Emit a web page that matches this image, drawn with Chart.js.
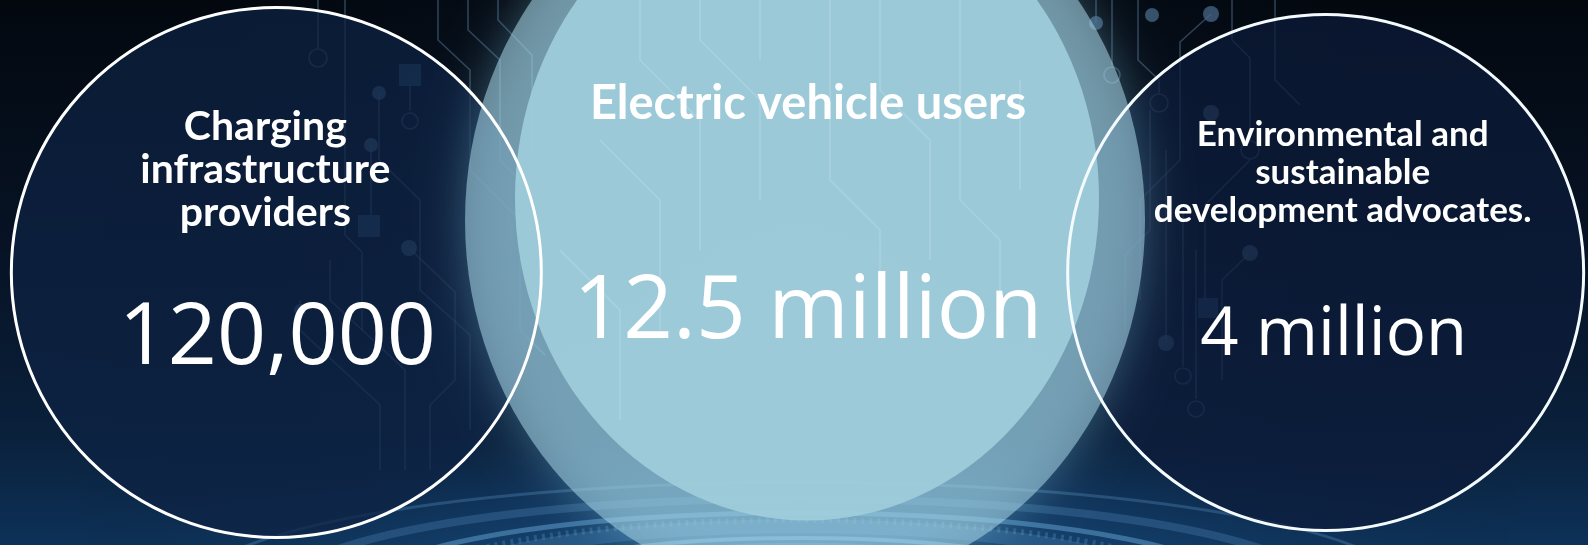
<!DOCTYPE html>
<html>
<head>
<meta charset="utf-8">
<title>Audience groups</title>
<script src="https://cdn.jsdelivr.net/npm/chart.js@4.4.1/dist/chart.umd.min.js"></script>
<style>
  html, body { margin: 0; padding: 0; background: #050b14; overflow: hidden; }
  #wrap { width: 1588px; height: 545px; }
</style>
</head>
<body>
<div id="wrap"><canvas id="groups" width="1588" height="545"></canvas></div>
<script>
// data
var categories = ['Charging infrastructure providers', 'Electric vehicle users', 'Environmental and sustainable development advocates.'];
var titleLines = [['Charging', 'infrastructure', 'providers'], ['Electric vehicle users'], ['Environmental and', 'sustainable', 'development advocates.']];
var values = [120000, 12500000, 4000000];
var valueLabels = ['120,000', '12.5 million', '4 million'];

// looks (sizes / offsets from each bubble centre)
var look = {
  radius: [265, 292, 258],
  fill: ['rgba(14,34,68,0.72)', 'rgba(0,0,0,0)', 'rgba(12,28,58,0.72)'],
  ring: ['#ffffff', 'rgba(0,0,0,0)', '#f4fbff'],
  titleSize: [41, 47, 35],
  titleDx: [-11, 7, 17],
  titleBase: [-133, -154, -127],
  titleGap: [43, 0, 38],
  valueSize: [86, 87, 67],
  valueDx: [1, 7, 8],
  valueBase: [91, 65, 82]
};

// background circuit traces (decoration only)
var traces = [
  [[318,0],[318,48]], [[345,0],[345,235],[362,252],[362,330]],
  [[379,93],[379,160],[420,200],[420,290],[470,335],[470,430]],
  [[438,0],[438,40],[470,70],[470,170],[530,230]],
  [[468,0],[468,30],[500,60],[500,160],[545,205]],
  [[498,0],[498,20],[532,55],[532,150]],
  [[410,85],[410,111]], [[371,145],[371,215]],
  [[409,248],[455,292],[455,380],[430,405],[430,470]],
  [[330,260],[330,300],[405,370],[405,470]],
  [[300,300],[300,330],[380,405],[380,470]],
  [[520,260],[520,330],[545,355]],
  [[1096,0],[1096,23]], [[1112,0],[1112,65]],
  [[1138,0],[1138,60],[1159,80],[1159,93]],
  [[1150,110],[1150,230],[1125,255],[1125,330]],
  [[1211,14],[1180,42],[1180,160],[1140,200],[1140,300]],
  [[1250,160],[1205,205],[1205,300]],
  [[1250,253],[1222,280],[1222,380]],
  [[1166,150],[1166,343]], [[1183,210],[1183,366]], [[1196,250],[1196,399]],
  [[1232,0],[1232,40],[1250,58],[1250,140]],
  [[1275,0],[1275,80],[1300,105]]
];
var innerTraces = [
  [[640,0],[640,60],[700,120],[700,250]], [[700,0],[700,40],[760,100],[760,200]],
  [[760,0],[760,60]], [[830,0],[830,180],[880,230],[880,330]],
  [[880,0],[880,90],[930,140],[930,260]], [[960,0],[960,200],[1000,240],[1000,330]],
  [[600,140],[660,200],[660,330]], [[1020,80],[1020,190]], [[560,250],[620,310],[620,420]]
];
var dots = [[379,93,7],[371,145,7],[409,248,8],[1096,23,7],[1152,15,7],[1211,14,8],[1211,113,8],[1250,253,8],[1166,343,8],[300,310,6]];
var rings = [[318,58,9],[410,121,8],[1112,75,8],[1159,103,9],[1250,150,9],[1183,376,8],[1196,409,8]];
var squares = [[410,75,22],[369,226,22],[1208,308,20]];

function drawBackdrop(c, w, h) {
  var g = c.createLinearGradient(0, 0, 0, h);
  g.addColorStop(0, '#03080f');
  g.addColorStop(0.5, '#071427');
  g.addColorStop(0.8, '#0a213c');
  g.addColorStop(1, '#0d3158');
  c.fillStyle = g;
  c.fillRect(0, 0, w, h);

  var rg = c.createRadialGradient(800, 330, 40, 800, 330, 760);
  rg.addColorStop(0, 'rgba(30,70,120,0.35)');
  rg.addColorStop(1, 'rgba(0,0,0,0)');
  c.fillStyle = rg;
  c.fillRect(0, 0, w, h);

  // floor glow, squashed so it fades out before the horizon
  c.save();
  c.translate(800, 600);
  c.scale(1, 0.22);
  var fg = c.createRadialGradient(0, 0, 60, 0, 0, 820);
  fg.addColorStop(0, 'rgba(30,95,150,0.85)');
  fg.addColorStop(0.6, 'rgba(20,66,112,0.45)');
  fg.addColorStop(1, 'rgba(14,45,80,0)');
  c.fillStyle = fg;
  c.fillRect(-820, -820, 1640, 1640);
  c.restore();

  c.save();
  var floorRings = [[140, 8, 0.35], [190, 4, 0.6], [240, 12, 0.25], [300, 4, 0.6], [365, 14, 0.2],
    [440, 5, 0.45], [520, 8, 0.22], [610, 3, 0.25]];
  floorRings.forEach(function (r) {
    c.beginPath();
    c.ellipse(800, 592, r[0], r[0] * 0.18, 0, 0, Math.PI * 2);
    c.lineWidth = r[1];
    c.strokeStyle = 'rgba(110,175,225,' + r[2] + ')';
    c.stroke();
  });
  c.setLineDash([3, 5]);
  c.lineWidth = 6;
  c.strokeStyle = 'rgba(120,180,230,0.22)';
  c.beginPath();
  c.ellipse(800, 592, 400, 72, 0, 0, Math.PI * 2);
  c.stroke();
  c.restore();

  // circuits
  c.save();
  c.lineWidth = 1.6;
  c.strokeStyle = 'rgba(85,118,150,0.5)';
  traces.forEach(function (t) {
    c.beginPath();
    t.forEach(function (p, i) { if (i) c.lineTo(p[0], p[1]); else c.moveTo(p[0], p[1]); });
    c.stroke();
  });
  innerTraces.forEach(function (t) {
    c.beginPath();
    t.forEach(function (p, i) { if (i) c.lineTo(p[0], p[1]); else c.moveTo(p[0], p[1]); });
    c.stroke();
  });
  c.fillStyle = 'rgba(72,104,136,0.75)';
  dots.forEach(function (d) { c.beginPath(); c.arc(d[0], d[1], d[2], 0, Math.PI * 2); c.fill(); });
  rings.forEach(function (d) { c.beginPath(); c.arc(d[0], d[1], d[2], 0, Math.PI * 2); c.stroke(); });
  c.fillStyle = 'rgba(50,85,120,0.7)';
  squares.forEach(function (s) { c.fillRect(s[0] - s[2] / 2, s[1] - s[2] / 2, s[2], s[2]); });
  c.restore();
}

function drawGlowDisk(c, el) {
  var x = el.x, y = el.y;
  c.save();
  c.shadowColor = 'rgba(140,215,240,0.6)';
  c.shadowBlur = 45;
  c.fillStyle = 'rgba(168,214,230,0.55)';
  c.beginPath();
  c.ellipse(x + 4, y - 52, 340, 370, 0, 0, Math.PI * 2);
  c.fill();
  c.restore();

  c.save();
  c.fillStyle = 'rgba(160,205,219,0.92)';
  c.beginPath();
  c.ellipse(x + 6, y - 74, 292, 322, 0, 0, Math.PI * 2);
  c.fill();
  c.clip();
  c.lineWidth = 1.6;
  c.strokeStyle = 'rgba(235,250,255,0.16)';
  innerTraces.forEach(function (t) {
    c.beginPath();
    t.forEach(function (p, i) { if (i) c.lineTo(p[0], p[1]); else c.moveTo(p[0], p[1]); });
    c.stroke();
  });
  c.restore();
}

var scene = {
  id: 'scene',
  beforeDraw: function (chart) {
    drawBackdrop(chart.ctx, chart.width, chart.height);
  },
  afterDatasetDraw: function (chart, args) {
    if (args.index !== 0) return;
    drawGlowDisk(chart.ctx, args.meta.data[1]);
  },
  afterDraw: function (chart) {
    var c = chart.ctx;
    var pts = chart.getDatasetMeta(0).data;
    c.save();
    c.fillStyle = '#ffffff';
    c.textAlign = 'center';
    c.textBaseline = 'alphabetic';
    pts.forEach(function (el, i) {
      c.font = 'bold ' + look.titleSize[i] + 'px Lato, "Open Sans", sans-serif';
      titleLines[i].forEach(function (line, j) {
        c.fillText(line, el.x + look.titleDx[i], el.y + look.titleBase[i] + j * look.titleGap[i]);
      });
      c.font = '400 ' + look.valueSize[i] + 'px "Open Sans", "Noto Sans", sans-serif';
      c.fillText(valueLabels[i], el.x + look.valueDx[i], el.y + look.valueBase[i]);
    });
    c.restore();
  }
};

var points = categories.map(function (cat, i) { return { x: cat, y: 0, value: values[i] }; });

new Chart(document.getElementById('groups').getContext('2d'), {
  type: 'bubble',
  data: {
    labels: categories,
    datasets: [
      {
        label: 'groups',
        data: points,
        order: 2,
        clip: false,
        radius: function (ctx) { return look.radius[ctx.dataIndex]; },
        backgroundColor: look.fill,
        borderWidth: 0
      },
      {
        label: 'outline',
        data: points,
        order: 1,
        clip: false,
        radius: function (ctx) { return look.radius[ctx.dataIndex]; },
        backgroundColor: 'rgba(0,0,0,0)',
        borderColor: look.ring,
        borderWidth: 3
      }
    ]
  },
  options: {
    responsive: false,
    animation: false,
    events: [],
    layout: { autoPadding: false, padding: { left: 14, right: 0, top: 0, bottom: 0 } },
    scales: {
      x: { type: 'category', offset: true, display: false },
      y: { type: 'linear', min: -1, max: 1, display: false }
    },
    plugins: {
      legend: { display: false },
      tooltip: { enabled: false }
    }
  },
  plugins: [scene]
});
</script>
</body>
</html>
